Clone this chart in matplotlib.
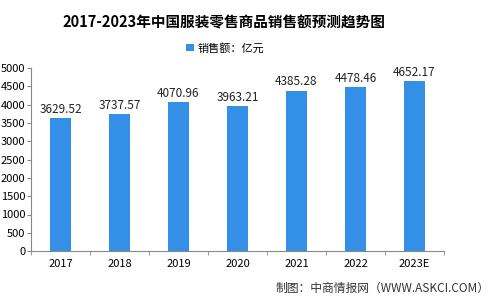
import matplotlib.pyplot as plt
import numpy as np

plt.rcParams['font.family'] = ['Noto Sans CJK SC', 'DejaVu Sans']

years = ['2017', '2018', '2019', '2020', '2021', '2022', '2023E']
sales = [3629.52, 3737.57, 4070.96, 3963.21, 4385.28, 4478.46, 4652.17]
yticks = [0, 500, 1000, 1500, 2000, 2500, 3000, 3500, 4000, 4500, 5000]

fig = plt.figure(figsize=(5, 3), dpi=100)
ax = fig.add_axes([0.062, 0.163, 0.826, 0.61])

x = np.arange(len(years))
bars = ax.bar(x, sales, width=0.36, color='#3390e6', label='销售额：亿元')
for xi, v in zip(x, sales):
    ax.text(xi, v + 60, f'{v:.2f}', ha='center', va='bottom', fontsize=8.5, color='#222222')

ax.set_xlim(-0.5, len(years) - 0.5)
ax.set_ylim(0, 5000)
ax.set_yticks(yticks)
ax.set_xticks(x)
ax.set_xticklabels(years)
ax.set_xticks(np.arange(-0.5, len(years)), minor=True)
ax.tick_params(axis='x', which='major', length=0, labelsize=8, pad=6)
ax.tick_params(axis='x', which='minor', length=3, color='#888888')
ax.tick_params(axis='y', labelsize=8, length=3, color='#888888', pad=1)
for s in ['top', 'right']:
    ax.spines[s].set_visible(False)
for s in ['left', 'bottom']:
    ax.spines[s].set_color('#888888')

fig.text(0.448, 0.925, '2017-2023年中国服装零售商品销售额预测趋势图', ha='center', va='center',
         fontsize=10.5, fontweight='bold')
fig.legend(loc='center', bbox_to_anchor=(0.45, 0.84), frameon=False, fontsize=8,
           handlelength=0.7, handleheight=0.7, handletextpad=0.3)
fig.text(0.98, 0.04, '制图：中商情报网（WWW.ASKCI.COM）', ha='right', va='center', fontsize=8.5,
         color='#333333')

fig.savefig('out.png', dpi=100)
